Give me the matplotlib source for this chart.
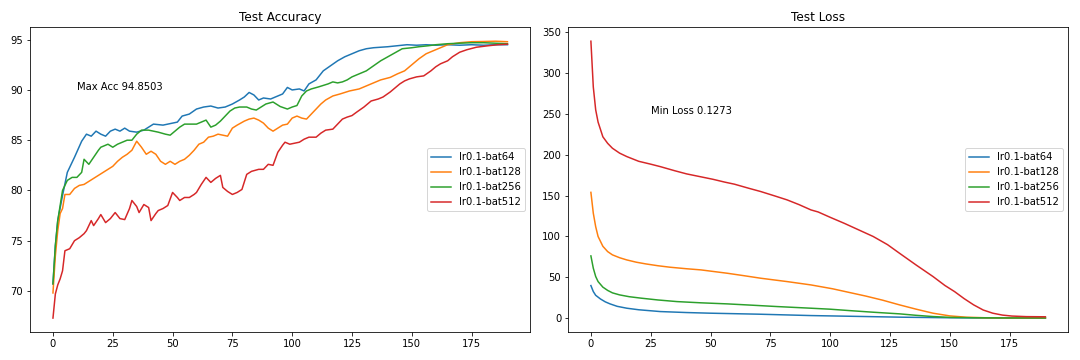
import matplotlib
matplotlib.use('Agg')
import matplotlib.pyplot as plt

labels = ['lr0.1-bat64', 'lr0.1-bat128', 'lr0.1-bat256', 'lr0.1-bat512']

# Test accuracy (epoch, value)
acc_ep_64 = [0, 1, 2, 4, 6, 9, 12, 14, 16, 18, 20, 22, 24, 26, 28, 30, 32, 35, 38, 42, 46, 50, 52, 54, 57, 60,
             63, 66, 69, 72, 75, 78, 80, 82, 84, 86, 88, 91, 94, 96, 98, 100, 103, 105, 107, 110, 113, 116,
             119, 122, 125, 128, 131, 134, 137, 140, 144, 148, 152, 156, 160, 165, 170, 175, 180, 185, 190]
acc_64 = [70.7, 74.5, 77.0, 79.5, 81.8, 83.3, 84.9, 85.6, 85.4, 85.9, 85.6, 85.4, 85.9, 86.1, 85.9, 86.2, 85.9,
          85.8, 86.0, 86.6, 86.5, 86.7, 86.8, 87.4, 87.6, 88.1, 88.3, 88.4, 88.2, 88.3, 88.6, 89.0, 89.3, 89.75,
          89.5, 89.0, 89.2, 89.1, 89.4, 89.6, 90.25, 90.0, 90.1, 89.9, 90.6, 91.0, 91.9, 92.4, 92.9, 93.3, 93.6,
          93.9, 94.1, 94.2, 94.25, 94.3, 94.4, 94.5, 94.45, 94.5, 94.45, 94.5, 94.45, 94.5, 94.45, 94.5, 94.5]

acc_ep_128 = [0, 1, 2, 3, 4, 5, 7, 9, 11, 13, 15, 17, 19, 21, 23, 25, 27, 29, 31, 33, 35, 37, 39, 41, 43, 45,
              47, 49, 51, 53, 55, 57, 59, 61, 63, 65, 67, 69, 71, 73, 75, 77, 80, 82, 84, 86, 88, 90, 92, 94,
              96, 98, 100, 102, 104, 106, 108, 110, 112, 114, 117, 120, 124, 128, 131, 134, 137, 141, 144, 147,
              150, 153, 156, 159, 162, 165, 170, 175, 180, 185, 190]
acc_128 = [69.8, 73.5, 76.0, 77.7, 78.2, 79.6, 79.6, 80.2, 80.5, 80.6, 80.9, 81.2, 81.5, 81.8, 82.1, 82.4, 82.9,
           83.3, 83.6, 84.0, 84.9, 84.3, 83.6, 83.9, 83.6, 82.9, 82.6, 82.9, 82.6, 82.9, 83.1, 83.5, 84.0, 84.6,
           84.8, 85.3, 85.4, 85.6, 85.5, 85.4, 86.2, 86.5, 86.9, 87.1, 87.2, 87.0, 86.7, 86.2, 85.9, 86.2, 86.5,
           86.6, 87.2, 87.4, 87.2, 87.1, 87.6, 88.1, 88.6, 89.0, 89.4, 89.6, 89.9, 90.1, 90.4, 90.7, 91.0, 91.25,
           91.6, 91.9, 92.5, 93.1, 93.6, 93.9, 94.2, 94.5, 94.7, 94.8, 94.82, 94.85, 94.8]

acc_ep_256 = [0, 1, 2, 3, 4, 6, 8, 10, 12, 13, 15, 17, 19, 20, 23, 25, 27, 29, 31, 33, 35, 37, 40, 42, 44, 47,
              49, 51, 53, 55, 58, 60, 62, 64, 66, 68, 70, 72, 74, 76, 78, 81, 83, 85, 87, 89, 92, 95, 98, 100,
              102, 104, 106, 108, 111, 113, 115, 117, 119, 121, 123, 125, 128, 131, 134, 137, 140, 143, 146, 150,
              153, 157, 160, 165, 170, 175, 180, 185, 190]
acc_256 = [70.7, 74.5, 77.0, 78.5, 80.0, 81.0, 81.3, 81.3, 81.8, 83.1, 82.6, 83.3, 84.0, 84.3, 84.6, 84.3, 84.6,
           84.8, 85.0, 85.0, 85.6, 86.0, 86.0, 85.9, 85.8, 85.6, 85.5, 85.9, 86.3, 86.6, 86.6, 86.6, 86.8, 87.0,
           86.3, 86.5, 86.9, 87.4, 87.9, 88.2, 88.3, 88.3, 88.1, 88.0, 88.3, 88.6, 88.8, 88.35, 88.1, 88.3, 88.45,
           89.4, 89.9, 90.1, 90.3, 90.45, 90.6, 90.8, 90.7, 90.8, 91.0, 91.3, 91.6, 91.9, 92.4, 92.9, 93.3, 93.7,
           94.1, 94.2, 94.3, 94.4, 94.5, 94.6, 94.65, 94.7, 94.7, 94.65, 94.6]

acc_ep_512 = [0, 1, 2, 3, 4, 5, 7, 9, 11, 13, 14, 16, 17, 19, 20, 22, 24, 26, 28, 30, 32, 33, 35, 36, 38, 40,
              41, 43, 44, 46, 48, 50, 52, 53, 55, 57, 59, 60, 62, 64, 66, 68, 70, 71, 73, 75, 77, 79, 81, 83,
              86, 88, 90, 92, 94, 96, 97, 99, 101, 103, 105, 107, 110, 112, 114, 117, 119, 121, 123, 125, 127,
              130, 133, 136, 138, 141, 143, 145, 147, 149, 152, 155, 158, 160, 162, 165, 167, 170, 173, 177,
              182, 186, 190]
acc_512 = [67.3, 69.7, 70.6, 71.2, 72.0, 74.0, 74.2, 75.0, 75.3, 75.7, 76.0, 77.0, 76.5, 77.2, 77.6, 76.8, 77.2,
           77.8, 77.2, 77.1, 78.2, 79.0, 78.4, 77.8, 78.6, 78.3, 77.0, 77.7, 78.0, 78.2, 78.5, 79.8, 79.3, 79.0,
           79.3, 79.3, 79.6, 79.8, 80.6, 81.3, 80.8, 81.2, 81.5, 80.3, 79.9, 79.6, 79.8, 80.1, 81.6, 81.9, 82.1,
           82.1, 82.6, 82.5, 83.8, 84.5, 84.8, 84.6, 84.7, 84.8, 85.1, 85.3, 85.3, 85.7, 86.0, 86.1, 86.6, 87.1,
           87.3, 87.45, 87.8, 88.3, 88.9, 89.1, 89.3, 89.8, 90.2, 90.6, 90.9, 91.1, 91.3, 91.4, 91.9, 92.3, 92.6,
           92.9, 93.3, 93.75, 94.0, 94.25, 94.4, 94.5, 94.55]

# Test loss
loss_ep_64 = [0, 1, 2, 4, 6, 8, 11, 15, 20, 29, 40, 50, 70, 92, 115, 130, 150, 170, 190]
loss_64 = [39.9, 32.6, 28.0, 23.5, 20.0, 17.5, 14.5, 12.2, 10.3, 8.1, 6.9, 6.1, 4.9, 3.2, 2.0, 1.2, 0.5, 0.2, 0.13]

loss_ep_128 = [0, 1, 2, 3, 5, 7, 9, 12, 15, 19, 23, 28, 33, 40, 46, 57, 64, 71, 82, 92, 101, 108, 115, 122,
               129, 136, 143, 150, 157, 165, 175, 190]
loss_128 = [154, 128.5, 112, 100, 88, 81.5, 77.5, 74, 71.3, 68.5, 66.4, 64.2, 62.4, 60.5, 59.1, 55, 52, 48.9,
            44.8, 40.7, 36, 31.5, 27, 22, 16.3, 11, 6.1, 2.8, 1.2, 0.5, 0.3, 0.2]

loss_ep_256 = [0, 1, 2, 3, 5, 7, 9, 12, 16, 21, 28, 36, 46, 57, 68, 78, 92, 100, 108, 118, 129, 136, 143, 150,
               160, 175, 190]
loss_256 = [76.2, 61.2, 51, 44.8, 38, 34, 31, 28.5, 26.3, 24.5, 22.3, 20.3, 18.8, 17.5, 15.8, 14.2, 12.2, 11,
            9.3, 7.3, 5.3, 3.5, 2.0, 1.0, 0.5, 0.3, 0.25]

loss_ep_512 = [0, 1, 2, 3, 5, 7, 9, 12, 15, 20, 25, 29, 35, 40, 46, 51, 56, 60, 66, 71, 77, 82, 87, 92, 95,
               100, 106, 112, 118, 124, 129, 136, 143, 148, 152, 156, 160, 164, 168, 172, 176, 182, 190]
loss_512 = [339, 283, 255, 240, 222, 214, 208, 202, 197.8, 192, 188.5, 185.5, 180.5, 176.6, 173, 170, 166.5,
            164, 159, 155, 149.5, 144.8, 139, 132.5, 130, 123.5, 116, 108, 100, 90, 79.5, 65, 51, 40, 32.6,
            24, 16.3, 10, 6.1, 3.8, 2.6, 1.9, 1.7]

acc_eps = [acc_ep_64, acc_ep_128, acc_ep_256, acc_ep_512]
acc_vals = [acc_64, acc_128, acc_256, acc_512]
loss_eps = [loss_ep_64, loss_ep_128, loss_ep_256, loss_ep_512]
loss_vals = [loss_64, loss_128, loss_256, loss_512]

fig, (ax1, ax2) = plt.subplots(1, 2, figsize=(15, 5), dpi=72)
fig.subplots_adjust(left=0.028, right=0.989, bottom=0.078, top=0.924, wspace=0.076)

for ep, v, lab in zip(acc_eps, acc_vals, labels):
    ax1.plot(ep, v, label=lab)
ax1.set_title('Test Accuracy')
ax1.text(10, 90, 'Max Acc 94.8503')
ax1.legend(loc='center right')

for ep, v, lab in zip(loss_eps, loss_vals, labels):
    ax2.plot(ep, v, label=lab)
ax2.set_title('Test Loss')
ax2.text(25, 250, 'Min Loss 0.1273')
ax2.legend(loc='center right')

plt.savefig('out.png', dpi=72)
